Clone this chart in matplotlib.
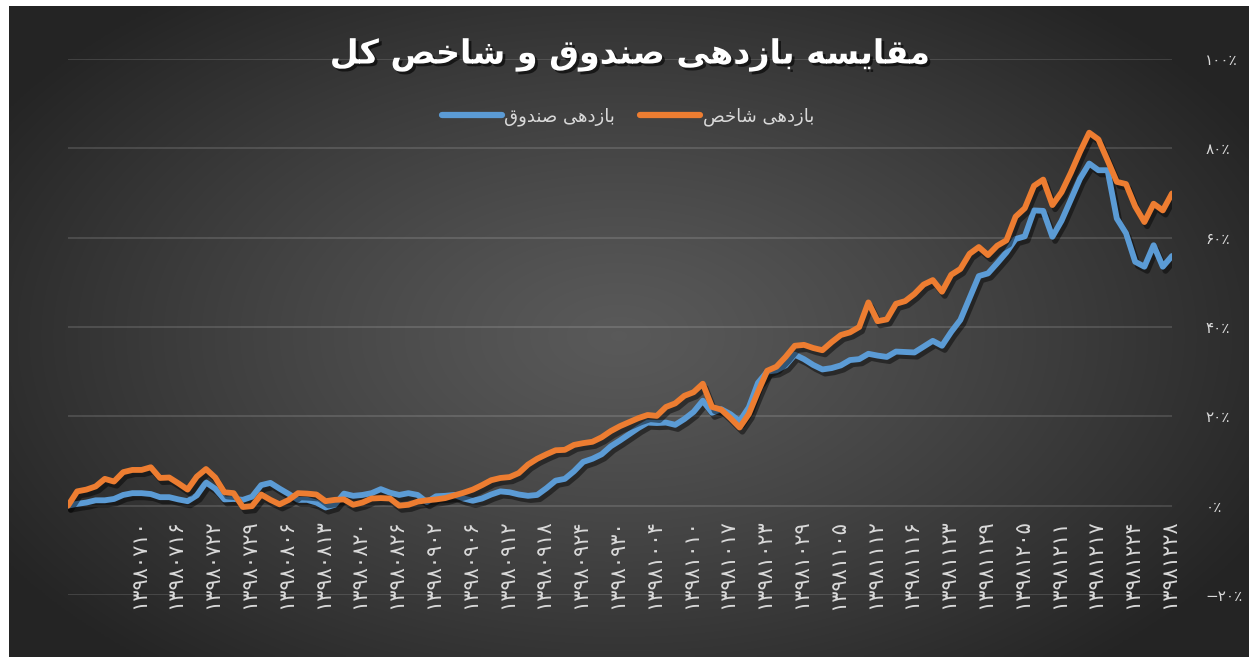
import numpy as np
import matplotlib
matplotlib.use("Agg")
import matplotlib.pyplot as plt
from matplotlib import font_manager, ft2font
import matplotlib.patheffects as pe

# --- data -------------------------------------------------------------
title_text = "مقایسه بازدهی صندوق و شاخص کل"
fund_label = "بازدهی صندوق"
index_label = "بازدهی شاخص"

tick_dates = [
    "13980710", "13980716", "13980722", "13980729", "13980806", "13980813",
    "13980820", "13980826", "13980902", "13980906", "13980912", "13980918",
    "13980924", "13980930", "13981004", "13981010", "13981017", "13981023",
    "13981029", "13981105", "13981112", "13981116", "13981123", "13981129",
    "13981205", "13981211", "13981217", "13981224", "13981228",
]

# fund return (%), one value per trading day
fund_return = [
    0.0, 0.4, 0.7, 1.2, 1.2, 1.5, 2.4, 2.8, 2.8, 2.6,
    1.9, 1.9, 1.4, 1.0, 2.3, 5.2, 3.8, 1.4, 1.5, 1.3,
    2.0, 4.6, 5.1, 3.8, 2.6, 1.3, 1.3, 0.7, -0.4, 0.2,
    2.7, 2.2, 2.4, 2.8, 3.7, 2.9, 2.4, 2.8, 2.4, 0.8,
    2.1, 2.2, 2.4, 1.6, 1.1, 1.6, 2.5, 3.2, 3.0, 2.5,
    2.2, 2.4, 3.9, 5.6, 6.0, 7.7, 9.8, 10.5, 11.5, 13.3,
    14.6, 16.0, 17.4, 18.6, 18.5, 18.6, 18.1, 19.4, 21.0, 23.5,
    20.8, 21.6, 20.5, 18.9, 22.0, 27.5, 30.0, 30.3, 31.4, 33.8,
    32.8, 31.5, 30.5, 30.8, 31.4, 32.6, 32.8, 34.0, 33.6, 33.3,
    34.5, 34.4, 34.3, 35.6, 36.9, 35.8, 38.9, 41.6, 46.5, 51.4,
    52.0, 54.3, 56.7, 59.7, 60.3, 66.1, 66.0, 60.2, 63.8, 68.5,
    73.2, 76.6, 75.1, 75.1, 64.3, 61.0, 54.6, 53.5, 58.3, 53.5,
    55.9,
]

# total index return (%)
index_return = [
    0.0, 3.2, 3.6, 4.3, 6.0, 5.4, 7.5, 8.0, 8.0, 8.6,
    6.2, 6.3, 5.0, 3.6, 6.5, 8.2, 6.3, 3.0, 2.8, -0.3,
    -0.1, 2.5, 1.3, 0.3, 1.3, 2.8, 2.7, 2.5, 1.0, 1.3,
    1.4, 0.2, 0.7, 1.6, 1.7, 1.6, 0.0, 0.2, 0.9, 1.2,
    1.4, 1.7, 2.3, 2.9, 3.6, 4.6, 5.7, 6.2, 6.4, 7.3,
    9.2, 10.5, 11.5, 12.4, 12.5, 13.6, 14.0, 14.3, 15.3, 16.7,
    17.8, 18.7, 19.6, 20.3, 20.1, 22.1, 22.9, 24.6, 25.4, 27.3,
    22.1, 21.5, 19.6, 17.5, 20.5, 25.5, 30.2, 31.1, 33.3, 35.8,
    36.0, 35.3, 34.8, 36.6, 38.2, 38.8, 40.0, 45.5, 41.3, 41.7,
    45.2, 45.8, 47.4, 49.5, 50.5, 47.9, 51.7, 53.0, 56.4, 57.9,
    56.1, 58.2, 59.4, 64.7, 66.6, 71.6, 73.0, 67.3, 70.2, 74.5,
    79.2, 83.5, 82.0, 77.3, 72.5, 72.0, 67.0, 63.5, 67.6, 66.1,
    69.9,
]

y_ticks = [-20, 0, 20, 40, 60, 80, 100]

# --- persian text helpers (matplotlib has no arabic shaping) -----------
FORMS = {
    "ا": ("\uFE8D", "\uFE8E", None, None),
    "د": ("\uFEA9", "\uFEAA", None, None),
    "ز": ("\uFEAF", "\uFEB0", None, None),
    "و": ("\uFEED", "\uFEEE", None, None),
    "ب": ("\uFE8F", "\uFE90", "\uFE91", "\uFE92"),
    "خ": ("\uFEA5", "\uFEA6", "\uFEA7", "\uFEA8"),
    "س": ("\uFEB1", "\uFEB2", "\uFEB3", "\uFEB4"),
    "ش": ("\uFEB5", "\uFEB6", "\uFEB7", "\uFEB8"),
    "ص": ("\uFEB9", "\uFEBA", "\uFEBB", "\uFEBC"),
    "ق": ("\uFED5", "\uFED6", "\uFED7", "\uFED8"),
    "ل": ("\uFEDD", "\uFEDE", "\uFEDF", "\uFEE0"),
    "م": ("\uFEE1", "\uFEE2", "\uFEE3", "\uFEE4"),
    "ن": ("\uFEE5", "\uFEE6", "\uFEE7", "\uFEE8"),
    "ه": ("\uFEE9", "\uFEEA", "\uFEEB", "\uFEEC"),
    "ی": ("\uFBFC", "\uFBFD", "\uFBFE", "\uFBFF"),
    "ک": ("\uFB8E", "\uFB8F", "\uFB90", "\uFB91"),
}
FALLBACK = {
    "\uFBFC": "\uFEEF", "\uFBFD": "\uFEF0", "\uFBFE": "\uFEF3", "\uFBFF": "\uFEF4",
    "\uFB8E": "\uFED9", "\uFB8F": "\uFEDA", "\uFB90": "\uFEDB", "\uFB91": "\uFEDC",
}


def glyph_checker(weight):
    path = font_manager.findfont(
        font_manager.FontProperties(family="DejaVu Sans", weight=weight)
    )
    font = ft2font.FT2Font(path)
    return lambda ch: font.get_char_index(ord(ch)) != 0


def shape(text, has):
    out = []
    for i, ch in enumerate(text):
        if ch not in FORMS:
            out.append(ch)
            continue
        prev = text[i - 1] if i > 0 else ""
        nxt = text[i + 1] if i + 1 < len(text) else ""
        join_prev = prev in FORMS and FORMS[prev][2] is not None
        join_next = FORMS[ch][2] is not None and nxt in FORMS
        iso, fin, ini, med = FORMS[ch]
        if join_prev and join_next:
            g = med
        elif join_prev:
            g = fin
        elif join_next:
            g = ini
        else:
            g = iso
        if not has(g):
            g = FALLBACK.get(g, ch)
        out.append(g)
    return "".join(reversed(out))


def fa_digits(s):
    return s.translate(str.maketrans("0123456789", "۰۱۲۳۴۵۶۷۸۹"))


has_reg = glyph_checker("normal")
has_bold = glyph_checker("bold")
title_weight = "bold" if has_bold("\uFEE3") else "normal"
has_title = has_bold if title_weight == "bold" else has_reg
pct = "\u066A" if has_reg("\u066A") else "%"


def pct_label(v):
    sign = "\u2212" if v < 0 else ""
    return sign + fa_digits(str(abs(v))) + pct


# --- figure -------------------------------------------------------------
W, H = 1249, 657
plt.rcParams["font.family"] = "DejaVu Sans"
fig = plt.figure(figsize=(W / 100, H / 100), dpi=100, facecolor="white")

# dark radial background like the excel chart area
bg = fig.add_axes([9 / W, 0, 1 - 9 / W, 1 - 6 / H], zorder=0)
gx, gy = np.meshgrid(np.linspace(0, 1240, 400), np.linspace(0, 651, 220))
d = np.sqrt(((gx - 610) / 720) ** 2 + ((gy - 330) / 430) ** 2)
d = np.clip(d, 0, 1) ** 1.2
shade = 0.35 + (0.145 - 0.35) * d
bg.imshow(np.dstack([shade] * 3), aspect="auto", extent=(0, 1, 0, 1),
          interpolation="bilinear")
bg.set_axis_off()

left, right = 68 / W, 1172 / W
bottom, top = 1 - 595 / H, 1 - 59 / H
ax = fig.add_axes([left, bottom, right - left, top - bottom], zorder=1)
ax.set_facecolor("none")
# category labels hang from the 0% line, as in the excel chart
ax.spines["bottom"].set_position(("data", 0))
for s in ax.spines.values():
    s.set_visible(False)

x = np.arange(len(fund_return))
shadow = [pe.SimpleLineShadow(offset=(2, -3), shadow_color="black", alpha=0.45),
          pe.Normal()]
ax.plot(x, fund_return, color="#5B9BD5", lw=4.2, solid_joinstyle="round",
        solid_capstyle="round", path_effects=shadow,
        label=shape(fund_label, has_reg), zorder=3)
ax.plot(x, index_return, color="#ED7D31", lw=4.2, solid_joinstyle="round",
        solid_capstyle="round", path_effects=shadow,
        label=shape(index_label, has_reg), zorder=4)

ax.set_xlim(0, len(fund_return) - 1)
ax.set_ylim(-20, 100)
ax.set_yticks(y_ticks)
ax.set_yticklabels([pct_label(v) for v in y_ticks])
ax.yaxis.tick_right()
ax.grid(axis="y", color="white", alpha=0.13, lw=1.5)
ax.set_axisbelow(True)

tick_pos = [7.7 + 4 * k for k in range(len(tick_dates))]
ax.set_xticks(tick_pos)
ax.set_xticklabels([fa_digits(t) for t in tick_dates])
ax.tick_params(axis="x", length=0, pad=10, labelsize=15, colors="#d9d9d9",
               labelrotation=90)
ax.tick_params(axis="y", length=0, pad=24, labelsize=11, colors="#d9d9d9")

fig.text(631 / W, 1 - 55 / H, shape(title_text, has_title), ha="center",
         va="center", fontsize=24, fontweight=title_weight, color="white",
         path_effects=[pe.SimplePatchShadow(offset=(2, -2), shadow_rgbFace="black",
                                            alpha=0.6), pe.Normal()])

leg = ax.legend(loc="center", bbox_to_anchor=(628 / W, 1 - 117 / H),
                bbox_transform=fig.transFigure, ncol=2, frameon=False,
                fontsize=13, handlelength=3.3, handletextpad=0.15,
                columnspacing=1.4, labelcolor="#d9d9d9")
for line in leg.get_lines():
    line.set_linewidth(4.5)
    line.set_solid_capstyle("round")
    line.set_path_effects([])

fig.savefig("out.png", dpi=100, facecolor="white")
